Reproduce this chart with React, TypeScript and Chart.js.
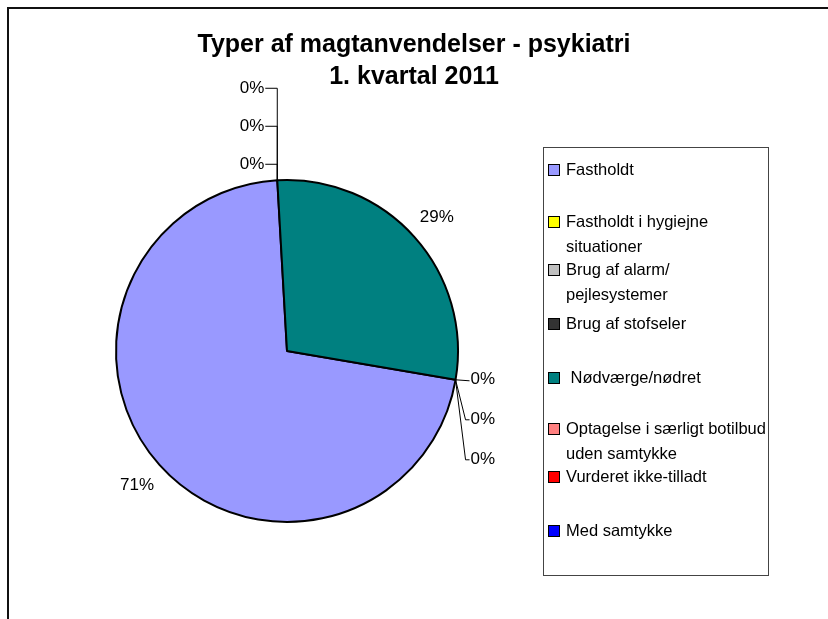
import React, { useEffect, useRef } from "react";
import { Chart, registerables } from "chart.js";

Chart.register(...registerables);

const categories = [
  "Fastholdt",
  "Fastholdt i hygiejne situationer",
  "Brug af alarm/ pejlesystemer",
  "Brug af stofseler",
  "Nødværge/nødret",
  "Optagelse i særligt botilbud uden samtykke",
  "Vurderet ikke-tilladt",
  "Med samtykke",
];
const legendLines = [
  ["Fastholdt"],
  ["Fastholdt i hygiejne", "situationer"],
  ["Brug af alarm/", "pejlesystemer"],
  ["Brug af stofseler"],
  [" Nødværge/nødret"],
  ["Optagelse i særligt botilbud", "uden samtykke"],
  ["Vurderet ikke-tilladt"],
  ["Med samtykke"],
];
const values = [71.4, 0, 0, 0, 28.6, 0, 0, 0];
const colors = ["#9999FF", "#FFFF00", "#C0C0C0", "#333333", "#008080", "#FF8080", "#FF0000", "#0000FF"];
const titleLines = ["Typer af magtanvendelser - psykiatri", "1. kvartal 2011"];

const FONT = "'Liberation Sans', Arial, sans-serif";

const overlay = {
  id: "overlay",
  afterDraw(chart: any) {
    const ctx = chart.ctx as CanvasRenderingContext2D;
    const meta = chart.getDatasetMeta(0);
    const total = values.reduce((a, b) => a + b, 0);
    ctx.save();
    // frame
    ctx.strokeStyle = "#111";
    ctx.lineWidth = 2;
    ctx.beginPath();
    ctx.moveTo(8, 619);
    ctx.lineTo(8, 8);
    ctx.lineTo(828, 8);
    ctx.stroke();

    // title
    ctx.fillStyle = "#000";
    ctx.font = `bold 25px ${FONT}`;
    ctx.textAlign = "center";
    ctx.textBaseline = "middle";
    ctx.fillText(titleLines[0], 414, 45);
    ctx.fillText(titleLines[1], 414, 77);

    // labels
    ctx.font = `17px ${FONT}`;
    ctx.strokeStyle = "#000";
    ctx.lineWidth = 1;
    const topIdx: number[] = [];
    const rightIdx: number[] = [];
    meta.data.forEach((arc: any, i: number) => {
      const { x, y, startAngle, endAngle, outerRadius } = arc.getProps(
        ["x", "y", "startAngle", "endAngle", "outerRadius"],
        true
      );
      const pct = Math.round((values[i] / total) * 100) + "%";
      if (values[i] > 0) {
        const mid = (startAngle + endAngle) / 2;
        const R = outerRadius + 30;
        ctx.textAlign = "center";
        ctx.fillText(pct, x + Math.cos(mid) * R, y + Math.sin(mid) * R);
      } else {
        const ax = x + Math.cos(startAngle) * outerRadius;
        const ay = y + Math.sin(startAngle) * outerRadius;
        if (ay < y) topIdx.push(i);
        else rightIdx.push(i);
        (arc as any)._anchor = [ax, ay, pct];
      }
    });
    // top group: stacked upward
    topIdx.forEach((i, k) => {
      const [ax, ay, pct] = (meta.data[i] as any)._anchor;
      const ly = ay - 16 - (topIdx.length - 1 - k) * 38;
      ctx.beginPath();
      ctx.moveTo(ax, ay);
      ctx.lineTo(ax, ly);
      ctx.lineTo(ax - 12, ly);
      ctx.stroke();
      ctx.textAlign = "right";
      ctx.fillText(pct, ax - 13, ly);
    });
    // right group: stacked downward
    rightIdx.forEach((i, k) => {
      const [ax, ay, pct] = (meta.data[i] as any)._anchor;
      const ly = ay + k * 40;
      ctx.beginPath();
      ctx.moveTo(ax, ay);
      if (k === 0) {
        ctx.lineTo(ax + 14, ly + 1);
      } else {
        ctx.lineTo(ax + 10, ly);
        ctx.lineTo(ax + 14, ly);
      }
      ctx.stroke();
      ctx.textAlign = "left";
      ctx.fillText(pct, ax + 15, ly);
    });

    // legend
    ctx.strokeStyle = "#444";
    ctx.lineWidth = 1;
    ctx.strokeRect(543.5, 147.5, 225, 428);
    const rowY = [170, 222, 270, 324, 378, 429, 477, 531];
    ctx.font = `16.5px ${FONT}`;
    ctx.textAlign = "left";
    legendLines.forEach((lines, i) => {
      const y0 = rowY[i];
      ctx.fillStyle = colors[i];
      ctx.fillRect(548.5, y0 - 5.5, 11, 11);
      ctx.strokeStyle = "#000";
      ctx.strokeRect(548.5, y0 - 5.5, 11, 11);
      ctx.fillStyle = "#000";
      lines.forEach((t, j) => ctx.fillText(t, 566, y0 + j * 25));
    });
    ctx.restore();
  },
};

export default function App() {
  const ref = useRef<HTMLCanvasElement>(null);
  useEffect(() => {
    if (!ref.current) return;
    const chart = new Chart(ref.current, {
      type: "pie",
      data: {
        labels: categories,
        datasets: [
          {
            data: values,
            backgroundColor: colors,
            borderColor: "#000",
            borderWidth: 2,
          },
        ],
      },
      options: {
        responsive: false,
        animation: false,
        rotation: 99.7,
        layout: { padding: { left: 115, top: 179, right: 369, bottom: 96 } },
        plugins: { legend: { display: false }, title: { display: false }, tooltip: { enabled: false } },
      },
      plugins: [overlay],
    });
    return () => chart.destroy();
  }, []);
  return (
    <div style={{ position: "absolute", left: 0, top: 0, width: 828, height: 619, background: "#fff" }}>
      <canvas ref={ref} width={828} height={619} style={{ display: "block" }} />
    </div>
  );
}
